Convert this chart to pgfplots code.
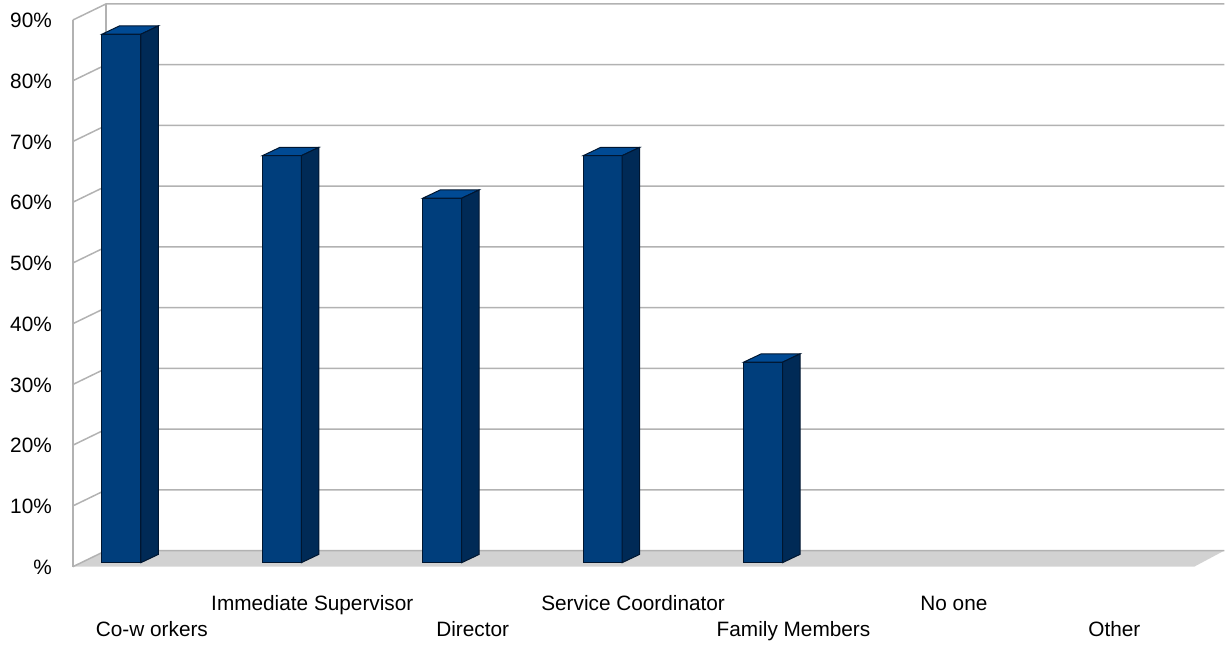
\documentclass[border=0pt]{standalone}
\usepackage{fontspec}
\setmainfont{Liberation Sans}
\usepackage{pgfplots}
\pgfplotsset{compat=1.18}
\usepackage{pgfplotstable}
\definecolor{frontc}{RGB}{0,62,124}
\definecolor{sidec}{RGB}{0,42,86}
\definecolor{topc}{RGB}{0,74,148}
\definecolor{edgec}{RGB}{0,22,48}
\definecolor{gridc}{RGB}{178,178,178}
\definecolor{floorc}{RGB}{210,210,210}

\pgfplotstableread{
i v
0 87
1 67
2 60
3 67
4 33
5 0
6 0
}\datatable

% top and side faces of a bar, drawn at the top centre of its front face
\pgfdeclareplotmark{prism}{%
  \pgfmathsetlengthmacro\barh{\val*3.039pt}%
  \pgfsetstrokecolor{edgec}%
  \pgfpathmoveto{\pgfqpoint{-9.75pt}{0pt}}%
  \pgfpathlineto{\pgfqpoint{9.75pt}{0pt}}%
  \pgfpathlineto{\pgfqpoint{18.5pt}{4.15pt}}%
  \pgfpathlineto{\pgfqpoint{-1pt}{4.15pt}}%
  \pgfpathclose
  \pgfsetfillcolor{topc}%
  \pgfusepath{fill,stroke}%
  \pgfpathmoveto{\pgfqpoint{9.75pt}{0pt}}%
  \pgfpathlineto{\pgfqpoint{18.5pt}{4.15pt}}%
  \pgfpathlineto{\pgfpoint{18.5pt}{4.15pt-\barh}}%
  \pgfpathlineto{\pgfpoint{9.75pt}{-\barh}}%
  \pgfpathclose
  \pgfsetfillcolor{sidec}%
  \pgfusepath{fill,stroke}%
}

\begin{document}
\begin{tikzpicture}
\begin{scope}[x=0.5pt,y=-0.5pt]
  \path (0,0) rectangle (1225,642);
  \fill[floorc] (73,567) -- (1195,567) -- (1225,551) -- (106,551) -- cycle;
  \foreach \k in {0,...,9}{
    \pgfmathsetmacro\yb{551-60.78*\k}
    \pgfmathsetmacro\yf{567-60.78*\k}
    \draw[gridc, line width=0.75pt] (73,\yf) -- (106,\yb) -- (1225,\yb);
  }
  \draw[gridc, line width=0.75pt] (73,567) -- (73,20);
  \draw[gridc, line width=0.75pt] (106,551) -- (106,4);
\end{scope}
\begin{axis}[
  at={(29.4525pt,-281.5pt)}, anchor=south west,
  x=80.25pt, y=3.039pt,
  xmin=-0.39, xmax=6.5, ymin=0, ymax=90,
  enlargelimits=false, clip=false,
  axis line style={draw=none},
  major tick length=0pt,
  ytick={0,10,...,90},
  yticklabels={\%,10\%,20\%,30\%,40\%,50\%,60\%,70\%,80\%,90\%},
  xtick={0,...,6},
  xticklabels={Co-w orkers,\raisebox{13pt}{Immediate Supervisor},Director,\raisebox{13pt}{Service Coordinator},Family Members,\raisebox{13pt}{No one},Other},
  tick label style={font=\fontsize{10.4}{12}\selectfont, text=black},
  yticklabel style={yshift=-2.25pt},
  xticklabel style={anchor=base, yshift=-37pt, xshift=15.25pt},
]
\addplot[ybar, bar width=19.5pt, bar shift=0pt, fill=frontc, draw=edgec, line width=0.5pt,
  restrict y to domain=1:100] table[x=i,y=v]{\datatable};
\addplot[scatter, only marks, mark=prism, line width=0.5pt,
  restrict y to domain=1:100,
  visualization depends on={rawy \as \val}] table[x=i,y=v]{\datatable};
\end{axis}
\end{tikzpicture}
\end{document}
